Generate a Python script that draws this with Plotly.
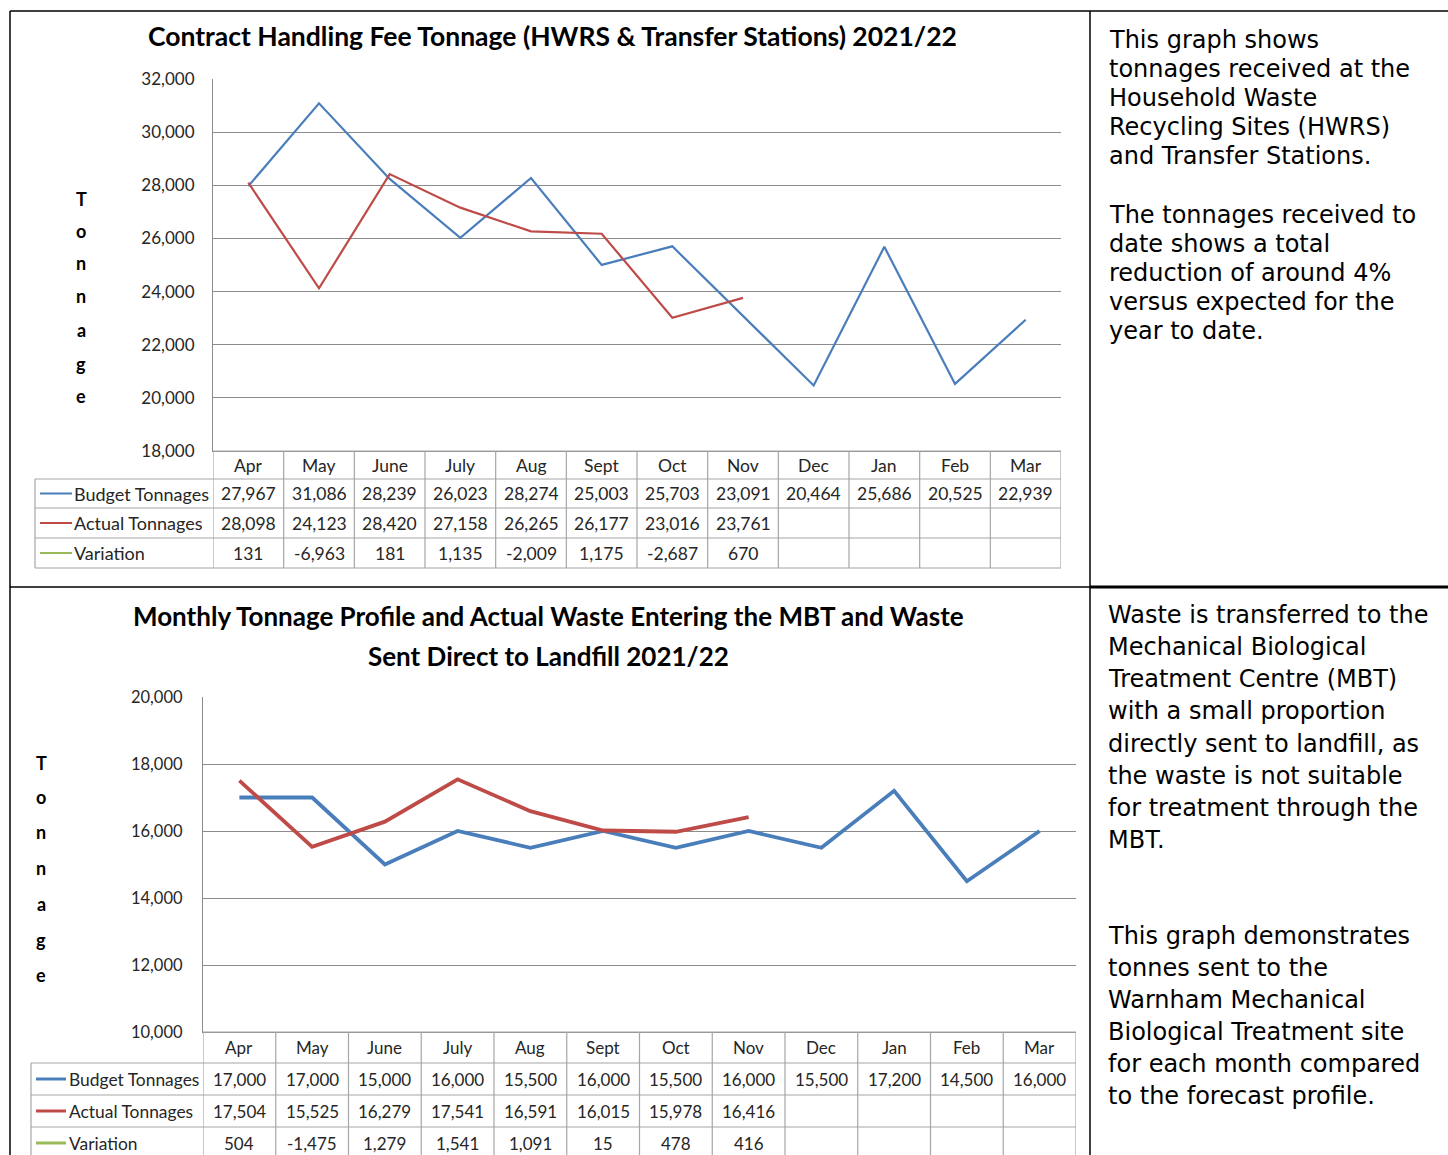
import plotly.graph_objects as go

W, H = 1448, 1155

months = ["Apr", "May", "June", "July", "Aug", "Sept", "Oct", "Nov", "Dec", "Jan", "Feb", "Mar"]

# chart 1 - HWRS & transfer stations
budget_hwrs = [27967, 31086, 28239, 26023, 28274, 25003, 25703, 23091, 20464, 25686, 20525, 22939]
actual_hwrs = [28098, 24123, 28420, 27158, 26265, 26177, 23016, 23761]
variation_hwrs = [131, -6963, 181, 1135, -2009, 1175, -2687, 670]

# chart 2 - MBT
budget_mbt = [17000, 17000, 15000, 16000, 15500, 16000, 15500, 16000, 15500, 17200, 14500, 16000]
actual_mbt = [17504, 15525, 16279, 17541, 16591, 16015, 15978, 16416]
variation_mbt = [504, -1475, 1279, 1541, 1091, 15, 478, 416]

title_hwrs = "Contract Handling Fee Tonnage (HWRS & Transfer Stations) 2021/22"
title_mbt = ["Monthly Tonnage Profile and Actual Waste Entering the MBT and Waste",
             "Sent Direct to Landfill 2021/22"]
row_labels = ["Budget Tonnages", "Actual Tonnages", "Variation"]

text_hwrs = [["This graph shows", "tonnages received at the", "Household Waste",
              "Recycling Sites (HWRS)", "and Transfer Stations."],
             ["The tonnages received to", "date shows a total", "reduction of around 4%",
              "versus expected for the", "year to date."]]
text_mbt = [["Waste is transferred to the", "Mechanical Biological", "Treatment Centre (MBT)",
             "with a small proportion", "directly sent to landfill, as", "the waste is not suitable",
             "for treatment through the", "MBT."],
            ["This graph demonstrates", "tonnes sent to the", "Warnham Mechanical",
             "Biological Treatment site", "for each month compared", "to the forecast profile."]]

BLUE, RED, GREEN = "#4A7EBB", "#BE4B48", "#9BBB59"
GRID = "#8C8C8C"
CELL = "#A6A6A6"
FONT = "Lato"
TXT = "Verdana, DejaVu Sans"


def px(x):
    return x / W


def py(y):
    return 1 - y / H


def note(x, y, text, size, family=FONT, xanchor="center", xref="paper", color="#000000"):
    return dict(x=x, xref=xref, y=y, yref="paper", text=text, showarrow=False,
                xanchor=xanchor, yanchor="middle", font=dict(family=family, size=size, color=color))


fig = go.Figure()
fig.add_trace(go.Scatter(x=months, y=budget_hwrs, mode="lines", line=dict(color=BLUE, width=2.2),
                         xaxis="x", yaxis="y", showlegend=False))
fig.add_trace(go.Scatter(x=months[:len(actual_hwrs)], y=actual_hwrs, mode="lines",
                         line=dict(color=RED, width=2.2), xaxis="x", yaxis="y", showlegend=False))
fig.add_trace(go.Scatter(x=months, y=budget_mbt, mode="lines", line=dict(color=BLUE, width=3.8),
                         xaxis="x2", yaxis="y2", showlegend=False))
fig.add_trace(go.Scatter(x=months[:len(actual_mbt)], y=actual_mbt, mode="lines",
                         line=dict(color=RED, width=3.8), xaxis="x2", yaxis="y2", showlegend=False))

shapes, annos = [], []

# panel geometry (pixels): plot left/right, top/bottom, table rows, legend column left
panels = [
    dict(ax="x", ay="y", left=213, right=1061, top=79, bottom=451, rows=[451, 479, 508, 538, 568],
         leg=35, rng=[18000, 32000], budget=budget_hwrs, actual=actual_hwrs, var=variation_hwrs,
         lw=2, fs=17.5, lfs=18, samp=(40, 72), lab=72, ytitle_x=81,
         letters=[199, 231, 263, 296, 330, 364, 396]),
    dict(ax="x2", ay="y2", left=203, right=1076, top=697, bottom=1032, rows=[1032, 1063, 1095, 1127, 1159],
         leg=31, rng=[10000, 20000], budget=budget_mbt, actual=actual_mbt, var=variation_mbt,
         lw=3, fs=17, lfs=17.4, samp=(36, 66), lab=67, ytitle_x=41,
         letters=[763, 797, 832, 868, 904, 940, 975]),
]

for p in panels:
    xr = p["ax"]
    rows = p["rows"]
    # vertical cell lines
    for i in range(len(months) + 1):
        shapes.append(dict(type="line", xref=xr, yref="paper", x0=i - 0.5, x1=i - 0.5,
                           y0=py(rows[0]), y1=py(rows[-1]), line=dict(color=CELL, width=1.2)))
    shapes.append(dict(type="line", xref="paper", yref="paper", x0=px(p["leg"]), x1=px(p["leg"]),
                       y0=py(rows[1]), y1=py(rows[-1]), line=dict(color=CELL, width=1.2)))
    # horizontal cell lines
    for j, r in enumerate(rows):
        shapes.append(dict(type="line", xref=xr, yref="paper", x0=-0.5, x1=len(months) - 0.5,
                           y0=py(r), y1=py(r), line=dict(color=CELL, width=1.2)))
        if j > 0:
            shapes.append(dict(type="line", xref="paper", yref="paper", x0=px(p["leg"]), x1=px(p["left"]),
                               y0=py(r), y1=py(r), line=dict(color=CELL, width=1.2)))
    centres = [(rows[k] + rows[k + 1]) / 2 for k in range(4)]
    # header + values
    for m in months:
        annos.append(note(m, py(centres[0]), m, p["fs"], xref=xr, color="#262626"))
    for k, vals in enumerate([p["budget"], p["actual"], p["var"]]):
        for i, v in enumerate(vals):
            annos.append(note(months[i], py(centres[k + 1]), f"{v:,}", p["fs"], xref=xr, color="#262626"))
    # legend keys
    for k, (lab, col) in enumerate(zip(row_labels, [BLUE, RED, GREEN])):
        yc = py(centres[k + 1])
        shapes.append(dict(type="line", xref="paper", yref="paper", x0=px(p["samp"][0]), x1=px(p["samp"][1]),
                           y0=yc, y1=yc, line=dict(color=col, width=p["lw"])))
        annos.append(note(px(p["lab"]), yc, lab, p["lfs"], xanchor="left", color="#262626"))
    # stacked y title
    for ch, yy in zip("Tonnage", p["letters"]):
        annos.append(note(px(p["ytitle_x"]), py(yy), f"<b>{ch}</b>", 18))

# chart titles
annos.append(note(px(552), py(36), f"<b>{title_hwrs}</b>", 26.5))
for line, yy in zip(title_mbt, [616, 656]):
    annos.append(note(px(548), py(yy), f"<b>{line}</b>", 26))

# right-hand commentary
for para, ys in zip(text_hwrs, [[40, 69, 98, 127, 156], [215, 244, 273, 302, 331]]):
    for line, yy in zip(para, ys):
        annos.append(note(px(1107), py(yy), line, 24, family=TXT, xanchor="left"))
for para, ys in zip(text_mbt, [[615, 647, 679, 711, 744, 776, 808, 840],
                               [936, 968, 1000, 1032, 1064, 1096]]):
    for line, yy in zip(para, ys):
        annos.append(note(px(1106), py(yy), line, 24, family=TXT, xanchor="left"))

# document table borders
for x0, y0, x1, y1, w in [(10, 11, 1448, 11, 1.5), (10, 11, 10, 1155, 1.5), (1090, 11, 1090, 1155, 1.5),
                          (10, 587, 1090, 587, 1.5), (1090, 587, 1448, 587, 2.8)]:
    shapes.append(dict(type="line", xref="paper", yref="paper", x0=px(x0), x1=px(x1), y0=py(y0), y1=py(y1),
                       line=dict(color="#000000", width=w)))

axis_common = dict(showline=True, linecolor=GRID, linewidth=1.2, zeroline=False, fixedrange=True)
p1, p2 = panels
fig.update_layout(
    width=W, height=H, margin=dict(l=0, r=0, t=0, b=0, autoexpand=False),
    paper_bgcolor="white", plot_bgcolor="white",
    xaxis=dict(domain=[px(p1["left"]), px(p1["right"])], anchor="y", type="category", categoryarray=months,
               range=[-0.5, 11.5], showticklabels=False, showgrid=False, ticks="", **axis_common),
    yaxis=dict(domain=[py(p1["bottom"]), py(p1["top"])], anchor="x", range=p1["rng"], dtick=2000,
               tickformat=",", showgrid=True, gridcolor=GRID, gridwidth=1.2, ticklabelstandoff=14,
               tickfont=dict(family=FONT, size=17, color="#262626"), **axis_common),
    xaxis2=dict(domain=[px(p2["left"]), px(p2["right"])], anchor="y2", type="category", categoryarray=months,
                range=[-0.5, 11.5], showticklabels=False, showgrid=False, ticks="", **axis_common),
    yaxis2=dict(domain=[py(p2["bottom"]), py(p2["top"])], anchor="x2", range=p2["rng"], dtick=2000,
                tickformat=",", showgrid=True, gridcolor=GRID, gridwidth=1.2, ticklabelstandoff=16,
                tickfont=dict(family=FONT, size=16.5, color="#262626"), **axis_common),
    shapes=shapes, annotations=annos,
)

fig.write_html("out.html", config={"displayModeBar": False},
               post_script="document.body.style.margin = '0';")
